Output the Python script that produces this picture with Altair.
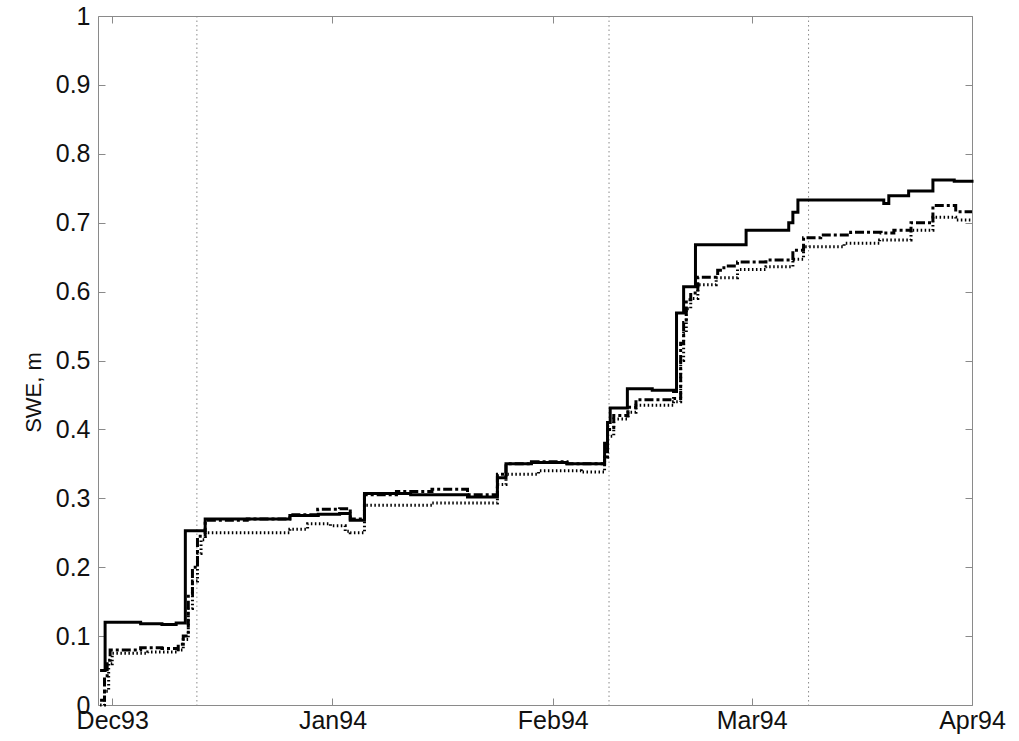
import altair as alt
import pandas as pd

# ---- data ----
solid_dates = ["1993-11-29T07:00", "1993-11-30T00:00", "1993-12-05T00:00", "1993-12-08T00:00",
               "1993-12-10T00:00", "1993-12-11T07:00", "1993-12-14T02:00", "1993-12-20T00:00",
               "1993-12-26T00:00", "1993-12-30T00:00", "1994-01-02T00:00", "1994-01-03T12:00",
               "1994-01-05T12:00", "1994-01-12T00:00", "1994-01-20T00:00", "1994-01-24T05:00",
               "1994-01-25T10:00", "1994-01-29T00:00", "1994-02-03T00:00", "1994-02-08T07:00",
               "1994-02-08T17:00", "1994-02-09T02:00", "1994-02-11T12:00", "1994-02-15T00:00",
               "1994-02-18T00:00", "1994-02-18T10:00", "1994-02-19T10:00", "1994-02-21T02:00",
               "1994-02-28T05:00", "1994-03-06T05:00", "1994-03-06T19:00", "1994-03-07T12:00",
               "1994-03-19T14:00", "1994-03-20T07:00", "1994-03-23T02:00", "1994-03-26T12:00",
               "1994-03-29T12:00", "1994-04-01T00:00"]
solid_vals = [0.05, 0.12, 0.118, 0.117,
              0.119, 0.253, 0.27, 0.27,
              0.275, 0.277, 0.278, 0.268,
              0.307, 0.305, 0.302, 0.33,
              0.35, 0.352, 0.35, 0.38,
              0.41, 0.431, 0.459, 0.457,
              0.455, 0.569, 0.607, 0.668,
              0.689, 0.70, 0.715, 0.733,
              0.728, 0.739, 0.746, 0.762,
              0.760, 0.758]

dashdot_dates = ["1993-11-29T07:00", "1993-11-29T22:00", "1993-11-30T07:00", "1993-11-30T17:00",
                 "1993-12-05T00:00", "1993-12-08T00:00", "1993-12-10T07:00", "1993-12-11T00:00",
                 "1993-12-11T17:00", "1993-12-12T07:00", "1993-12-13T00:00", "1993-12-14T02:00",
                 "1993-12-20T00:00", "1993-12-26T00:00", "1993-12-29T22:00", "1994-01-02T00:00",
                 "1994-01-03T12:00", "1994-01-05T12:00", "1994-01-10T00:00", "1994-01-15T00:00",
                 "1994-01-20T00:00", "1994-01-24T05:00", "1994-01-25T10:00", "1994-01-29T00:00",
                 "1994-02-03T00:00", "1994-02-08T07:00", "1994-02-08T17:00", "1994-02-09T14:00",
                 "1994-02-11T14:00", "1994-02-12T17:00", "1994-02-18T00:00", "1994-02-19T00:00",
                 "1994-02-19T10:00", "1994-02-19T19:00", "1994-02-20T10:00", "1994-02-21T10:00",
                 "1994-02-24T05:00", "1994-02-25T02:00", "1994-02-27T00:00", "1994-03-03T00:00",
                 "1994-03-06T19:00", "1994-03-08T07:00", "1994-03-10T17:00", "1994-03-14T22:00",
                 "1994-03-19T05:00", "1994-03-21T00:00", "1994-03-23T10:00", "1994-03-26T12:00",
                 "1994-03-29T17:00", "1994-04-01T00:00"]
dashdot_vals = [0.007, 0.04, 0.065, 0.08,
                0.083, 0.082, 0.088, 0.10,
                0.16, 0.20, 0.245, 0.268,
                0.27, 0.276, 0.284, 0.285,
                0.27, 0.305, 0.31, 0.313,
                0.305, 0.335, 0.35, 0.353,
                0.35, 0.36, 0.40, 0.42,
                0.432, 0.443, 0.445, 0.525,
                0.555, 0.588, 0.598, 0.621,
                0.631, 0.637, 0.643, 0.646,
                0.66, 0.678, 0.682, 0.686,
                0.685, 0.689, 0.70, 0.725,
                0.716, 0.716]

dotted_dates = ["1993-11-29T07:00", "1993-11-29T22:00", "1993-11-30T12:00", "1993-12-01T00:00",
                "1993-12-06T00:00", "1993-12-10T07:00", "1993-12-11T00:00", "1993-12-11T17:00",
                "1993-12-12T07:00", "1993-12-13T00:00", "1993-12-13T12:00", "1993-12-14T02:00",
                "1993-12-20T00:00", "1993-12-26T00:00", "1993-12-28T12:00", "1993-12-31T17:00",
                "1994-01-02T19:00", "1994-01-03T12:00", "1994-01-05T12:00", "1994-01-15T00:00",
                "1994-01-24T05:00", "1994-01-25T10:00", "1994-01-30T00:00", "1994-02-05T00:00",
                "1994-02-08T07:00", "1994-02-08T17:00", "1994-02-09T14:00", "1994-02-11T14:00",
                "1994-02-12T17:00", "1994-02-18T00:00", "1994-02-19T00:00", "1994-02-19T10:00",
                "1994-02-19T19:00", "1994-02-20T10:00", "1994-02-21T10:00", "1994-02-24T00:00",
                "1994-02-27T00:00", "1994-03-03T00:00", "1994-03-06T19:00", "1994-03-08T07:00",
                "1994-03-14T00:00", "1994-03-19T00:00", "1994-03-23T10:00", "1994-03-26T12:00",
                "1994-03-29T17:00", "1994-04-01T00:00"]
dotted_vals = [0.0, 0.02, 0.06, 0.075,
               0.077, 0.08, 0.095, 0.14,
               0.18, 0.22, 0.24, 0.25,
               0.25, 0.255, 0.263, 0.26,
               0.252, 0.25, 0.29, 0.293,
               0.32, 0.335, 0.34, 0.338,
               0.36, 0.39, 0.415, 0.425,
               0.435, 0.44, 0.50, 0.54,
               0.575, 0.59, 0.61, 0.62,
               0.632, 0.636, 0.647, 0.665,
               0.67, 0.675, 0.689, 0.708,
               0.704, 0.704]

marker_dates = ["1993-12-12T22:00", "1994-02-08T22:00", "1994-03-09T00:00"]

x_tick_dates = [(1993, 12), (1994, 1), (1994, 2), (1994, 3), (1994, 4)]
y_tick_values = [0, 0.1, 0.2, 0.3, 0.4, 0.5, 0.6, 0.7, 0.8, 0.9, 1.0]

series_names = ["solid", "dashdot", "dotted"]

# ---- build tables ----
frames = []
for name, d, v in [("solid", solid_dates, solid_vals),
                   ("dashdot", dashdot_dates, dashdot_vals),
                   ("dotted", dotted_dates, dotted_vals)]:
    frames.append(pd.DataFrame({"date": d, "value": v, "series": name}))
df = pd.concat(frames, ignore_index=True)
markers = pd.DataFrame({"date": marker_dates})

FONT = "Liberation Sans"
GREY = "#8a8a8a"
TICK = 7

x_scale = alt.Scale(domain=[alt.DateTime(year=1993, month=11, date=29),
                            alt.DateTime(year=1994, month=4, date=1)])
y_scale = alt.Scale(domain=[0, 1])
x_vals = [alt.DateTime(year=y, month=m, date=1) for (y, m) in x_tick_dates]

common_axis = dict(grid=False, domain=False, tickSize=TICK, offset=-TICK,
                   tickColor=GREY, tickWidth=1, labelFont=FONT, labelFontSize=25,
                   labelColor="#111111")

lines = alt.Chart(df).mark_line(interpolate="step-after", color="black").encode(
    x=alt.X("date:T", scale=x_scale,
            axis=alt.Axis(orient="bottom", values=x_vals, format="%b%y", title=None,
                          labelPadding=3, labelFlush=False, **common_axis)),
    y=alt.Y("value:Q", scale=y_scale,
            axis=alt.Axis(orient="left", values=y_tick_values, format=".1~f",
                          title="SWE, m", titleFont=FONT, titleFontSize=22,
                          titleFontWeight="normal", titleColor="#111111",
                          titleY=376, titlePadding=10, labelPadding=8, **common_axis)),
    strokeDash=alt.StrokeDash("series:N",
                              scale=alt.Scale(domain=series_names,
                                              range=[[1, 0], [9, 3, 3, 3], [1.5, 2.5]]),
                              legend=None),
    strokeWidth=alt.StrokeWidth("series:N",
                                scale=alt.Scale(domain=series_names, range=[3, 3, 1.3]),
                                legend=None),
)

mirror = alt.Chart(df).mark_line(opacity=0).encode(
    x=alt.X("date:T", scale=x_scale,
            axis=alt.Axis(orient="top", values=x_vals, labels=False, title=None, **common_axis)),
    y=alt.Y("value:Q", scale=y_scale,
            axis=alt.Axis(orient="right", values=y_tick_values, labels=False, title=None,
                          **common_axis)),
    detail="series:N",
)

rules = alt.Chart(markers).mark_rule(color=GREY, strokeDash=[1.5, 3], strokeWidth=1).encode(
    x=alt.X("date:T", scale=x_scale, axis=None),
)

chart = alt.layer(rules, lines, mirror).resolve_axis(
    x="independent", y="independent"
).properties(
    width=874, height=689,
    autosize=alt.AutoSizeParams(type="none"),
    padding={"left": 98, "top": 16, "right": 47, "bottom": 36},
    background="white",
).configure_view(stroke=GREY, strokeWidth=1)

chart.save("out.html", embed_options={"renderer": "svg", "actions": False})
